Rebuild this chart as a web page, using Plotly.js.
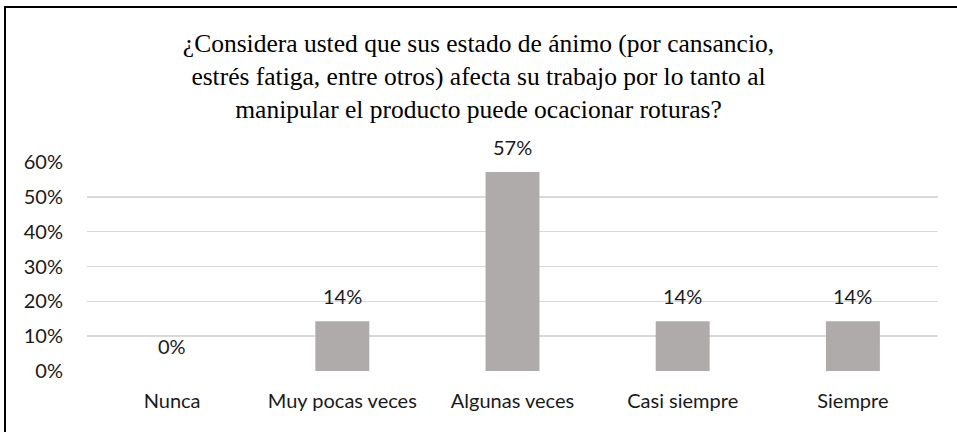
<!DOCTYPE html>
<html>
<head>
<meta charset="utf-8">
<script src="https://cdn.plot.ly/plotly-3.0.1.min.js"></script>
<style>
html,body{margin:0;padding:0;background:#fff;}
#wrap{position:relative;width:957px;height:432px;overflow:hidden;}
#chart{width:957px;height:432px;}
#frame{position:absolute;left:4px;top:6px;width:1000px;height:1000px;border-left:2px solid #000;border-top:2px solid #000;pointer-events:none;}
</style>
</head>
<body>
<div id="wrap"><div id="chart"></div><div id="frame"></div></div>
<script>
const categories = ["Nunca", "Muy pocas veces", "Algunas veces", "Casi siempre", "Siempre"];
const values = [0, 0.1429, 0.5714, 0.1429, 0.1429];
const valueLabels = ["0%", "14%", "57%", "14%", "14%"];
const yTickVals = [0, 0.1, 0.2, 0.3, 0.4, 0.5, 0.6];
const yTickText = ["0%", "10%", "20%", "30%", "40%", "50%", "60%"];
const titleText = "¿Considera usted que sus estado de ánimo (por cansancio,<br>estrés fatiga, entre otros) afecta su trabajo por lo tanto al<br>manipular el producto puede ocacionar roturas?";

const labelFont = {family: "Lato, 'Open Sans', sans-serif", size: 20, color: "#1a1a1a"};

const annotations = categories.map((c, i) => ({
  x: c,
  y: values[i],
  xref: "x",
  yref: "y",
  text: valueLabels[i],
  showarrow: false,
  yanchor: "bottom",
  xanchor: "center",
  yshift: 11,
  font: labelFont
}));

Plotly.newPlot("chart", [{
  type: "bar",
  x: categories,
  y: values,
  marker: {color: "#AFABAB"},
  width: 0.317,
  hoverinfo: "skip"
}], {
  width: 957,
  height: 432,
  margin: {l: 87, r: 19, t: 162, b: 61},
  paper_bgcolor: "#fff",
  plot_bgcolor: "#fff",
  showlegend: false,
  annotations: annotations,
  title: {
    text: titleText,
    font: {family: "'Liberation Serif', 'Times New Roman', serif", size: 25.5, color: "#000"},
    x: 0.5, xanchor: "center",
    y: 0.88, yanchor: "top", yref: "container"
  },
  xaxis: {
    type: "category",
    tickfont: labelFont,
    showgrid: false,
    showline: false,
    zeroline: false,
    ticks: "",
    ticklabelstandoff: 16
  },
  yaxis: {
    range: [0, 0.6],
    tickvals: yTickVals,
    ticktext: yTickText,
    tickfont: labelFont,
    showgrid: true,
    gridcolor: "#D9D9D9",
    gridwidth: 1.5,
    zeroline: false,
    showline: false,
    ticks: "",
    ticklabelstandoff: 23
  }
}, {staticPlot: true});
</script>
</body>
</html>
